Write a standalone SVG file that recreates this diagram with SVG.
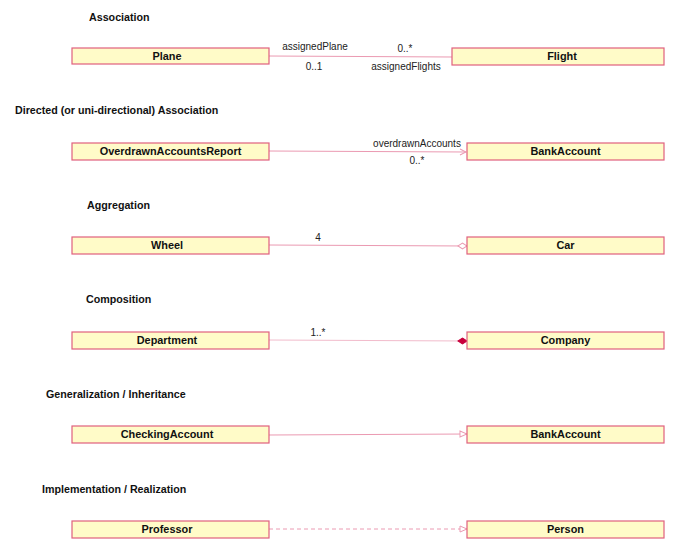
<svg xmlns="http://www.w3.org/2000/svg" width="687" height="554" viewBox="0 0 687 554">
<style>
.box{fill:#fffbc8;stroke:#e0607e;stroke-width:1.2}
.name{font-family:"Liberation Sans",Arial,sans-serif;font-size:10.9px;font-weight:bold;fill:#111;text-anchor:middle}
.title{font-family:"Liberation Sans",Arial,sans-serif;font-size:10.7px;font-weight:bold;fill:#111}
.lbl{font-family:"Liberation Sans",Arial,sans-serif;font-size:10px;fill:#222;text-anchor:middle}
.edge{stroke:#eb9ab2;stroke-width:1;fill:none}
</style>
<defs>
<marker id="open" markerWidth="8" markerHeight="8" refX="7" refY="4" orient="auto" markerUnits="userSpaceOnUse"><path d="M1,1 L7,4 L1,7" fill="none" stroke="#eb9ab2" stroke-width="1"/></marker>
<marker id="tri" markerWidth="9" markerHeight="8" refX="8" refY="4" orient="auto" markerUnits="userSpaceOnUse"><path d="M1,1 L8,4 L1,7 Z" fill="#fff" stroke="#eb9ab2" stroke-width="1"/></marker>
<marker id="odia" markerWidth="11" markerHeight="8" refX="10" refY="4" orient="auto" markerUnits="userSpaceOnUse"><path d="M1,4 L5.5,1 L10,4 L5.5,7 Z" fill="#fff" stroke="#eb9ab2" stroke-width="1"/></marker>
<marker id="fdia" markerWidth="11" markerHeight="8" refX="10" refY="4" orient="auto" markerUnits="userSpaceOnUse"><path d="M1,4 L5.5,1 L10,4 L5.5,7 Z" fill="#c8003c" stroke="#c8003c" stroke-width="1"/></marker>
</defs>

<g id="titles">
<text class="title" x="89" y="21">Association</text>
<text class="title" x="15" y="114">Directed (or uni-directional) Association</text>
<text class="title" x="87" y="209">Aggregation</text>
<text class="title" x="86" y="303">Composition</text>
<text class="title" x="46" y="398">Generalization / Inheritance</text>
<text class="title" x="42" y="493">Implementation / Realization</text>
</g>

<g id="connectors">
<line class="edge" x1="269" y1="56" x2="452" y2="57"/>
<line class="edge" x1="269" y1="151" x2="466" y2="152" marker-end="url(#open)"/>
<line class="edge" x1="269" y1="245" x2="467" y2="246" marker-end="url(#odia)"/>
<line class="edge" x1="269" y1="340" x2="467" y2="341" style="stroke:#f2bccc" marker-end="url(#fdia)"/>
<line class="edge" x1="269" y1="435" x2="467" y2="434" marker-end="url(#tri)"/>
<line class="edge" x1="269" y1="529" x2="467" y2="529" stroke-dasharray="4,3" marker-end="url(#tri)"/>
<text class="lbl" x="315" y="50">assignedPlane</text>
<text class="lbl" x="314" y="70">0..1</text>
<text class="lbl" x="405" y="52">0..*</text>
<text class="lbl" x="406" y="70">assignedFlights</text>
<text class="lbl" x="417" y="147">overdrawnAccounts</text>
<text class="lbl" x="417" y="164">0..*</text>
<text class="lbl" x="318" y="241">4</text>
<text class="lbl" x="318" y="336">1..*</text>
</g>

<g id="Plane"><rect class="box" x="72" y="48" width="197" height="16"/><text class="name" x="167" y="60">Plane</text></g>
<g id="Flight"><rect class="box" x="452" y="48" width="212" height="17"/><text class="name" x="562" y="60">Flight</text></g>
<g id="OverdrawnAccountsReport"><rect class="box" x="72" y="143" width="197" height="17"/><text class="name" x="170.5" y="155">OverdrawnAccountsReport</text></g>
<g id="BankAccount1"><rect class="box" x="467" y="143" width="197" height="17"/><text class="name" x="565.5" y="155">BankAccount</text></g>
<g id="Wheel"><rect class="box" x="72" y="237" width="197" height="17"/><text class="name" x="167" y="249">Wheel</text></g>
<g id="Car"><rect class="box" x="467" y="237" width="197" height="17"/><text class="name" x="565.5" y="249">Car</text></g>
<g id="Department"><rect class="box" x="72" y="332" width="197" height="17"/><text class="name" x="167" y="344">Department</text></g>
<g id="Company"><rect class="box" x="467" y="332" width="197" height="17"/><text class="name" x="565.5" y="344">Company</text></g>
<g id="CheckingAccount"><rect class="box" x="72" y="426" width="197" height="17"/><text class="name" x="167" y="438">CheckingAccount</text></g>
<g id="BankAccount2"><rect class="box" x="467" y="426" width="197" height="17"/><text class="name" x="565.5" y="438">BankAccount</text></g>
<g id="Professor"><rect class="box" x="72" y="521" width="197" height="17"/><text class="name" x="167" y="533">Professor</text></g>
<g id="Person"><rect class="box" x="467" y="521" width="197" height="17"/><text class="name" x="565.5" y="533">Person</text></g>
</svg>
